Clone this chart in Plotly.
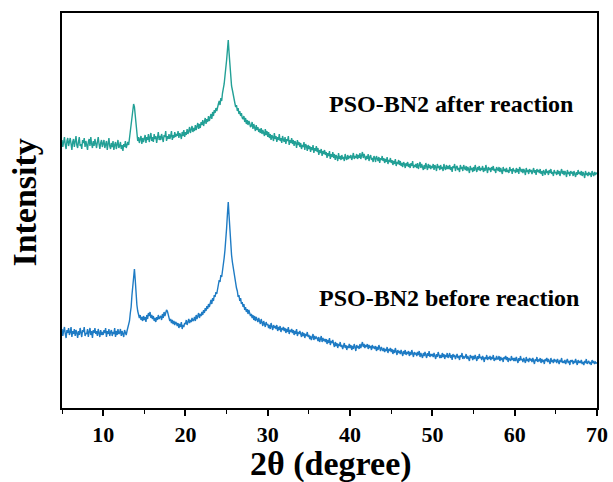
import numpy as np
import plotly.graph_objects as go

# Scan grid: 2θ from 5° to 70° in 0.1° steps
SCAN_START, SCAN_STEP, SCAN_POINTS = 5.0, 0.1, 651
two_theta = np.round(SCAN_START + SCAN_STEP * np.arange(SCAN_POINTS), 2)

# Intensity (a.u., stacked with offset); each row covers one degree (d.0 ... d.9)
after_reaction = [
    268, 261, 266, 271, 263, 259, 267, 270, 262, 265,  # 5
    270, 264, 258, 266, 269, 261, 267, 272, 263, 260,  # 6
    266, 271, 262, 264, 259, 268, 265, 270, 261, 267,  # 7
    263, 258, 266, 269, 262, 271, 264, 260, 267, 262,  # 8
    269, 263, 260, 266, 271, 264, 259, 265, 268, 261,  # 9
    264, 268, 260, 263, 267, 258, 265, 270, 262, 259,  # 10
    265, 261, 267, 258, 263, 266, 259, 264, 268, 260,  # 11
    262, 266, 259, 263, 257, 264, 261, 267, 260, 263,  # 12
    266, 263, 271, 275, 281, 291, 298, 304, 301, 291,  # 13
    280, 273, 267, 271, 265, 269, 272, 264, 270, 266,  # 14
    269, 273, 265, 271, 268, 274, 266, 270, 275, 267,  # 15
    271, 266, 274, 269, 272, 265, 270, 276, 268, 272,  # 16
    268, 274, 270, 266, 273, 271, 277, 267, 272, 269,  # 17
    274, 269, 272, 277, 268, 273, 270, 276, 271, 274,  # 18
    272, 277, 270, 275, 273, 269, 276, 272, 278, 271,  # 19
    276, 273, 279, 274, 277, 281, 275, 278, 282, 276,  # 20
    280, 277, 283, 278, 281, 285, 279, 284, 280, 286,  # 21
    283, 288, 282, 286, 290, 284, 289, 286, 292, 287,  # 22
    291, 294, 289, 296, 292, 298, 295, 300, 297, 302,  # 23
    304, 307, 303, 310, 307, 315, 319, 324, 332, 338,  # 24
    348, 358, 368, 355, 341, 331, 322, 318, 312, 309,  # 25
    305, 301, 303, 297, 300, 294, 297, 292, 295, 290,  # 26
    289, 292, 286, 290, 284, 288, 283, 287, 285, 281,  # 27
    282, 286, 279, 284, 280, 277, 283, 278, 281, 276,  # 28
    279, 275, 280, 274, 278, 276, 272, 279, 273, 277,  # 29
    271, 276, 270, 274, 268, 273, 271, 267, 275, 269,  # 30
    272, 266, 271, 268, 274, 267, 270, 265, 272, 268,  # 31
    266, 271, 264, 269, 267, 272, 263, 268, 265, 270,  # 32
    264, 268, 262, 267, 265, 260, 268, 263, 266, 261,  # 33
    265, 259, 263, 261, 266, 258, 264, 262, 257, 263,  # 34
    259, 262, 256, 261, 258, 263, 255, 260, 257, 262,  # 35
    256, 260, 253, 258, 255, 259, 252, 257, 254, 258,  # 36
    253, 256, 250, 255, 252, 257, 249, 254, 251, 256,  # 37
    250, 254, 248, 253, 251, 247, 255, 249, 252, 248,  # 38
    253, 249, 251, 247, 254, 250, 248, 253, 249, 252,  # 39
    250, 253, 248, 251, 255, 249, 252, 250, 254, 249,  # 40
    253, 250, 255, 249, 252, 256, 250, 254, 251, 248,  # 41
    252, 249, 254, 247, 251, 253, 248, 250, 246, 252,  # 42
    250, 246, 252, 249, 247, 251, 245, 250, 248, 252,  # 43
    247, 250, 245, 249, 246, 251, 244, 248, 246, 250,  # 44
    245, 248, 243, 247, 244, 249, 242, 246, 244, 248,  # 45
    243, 247, 242, 245, 241, 246, 244, 240, 245, 242,  # 46
    246, 241, 244, 240, 245, 242, 247, 240, 243, 241,  # 47
    244, 240, 245, 239, 243, 246, 240, 244, 241, 238,  # 48
    243, 239, 245, 241, 238, 244, 240, 243, 239, 242,  # 49
    240, 244, 238, 243, 241, 237, 244, 240, 242, 238,  # 50
    243, 239, 241, 237, 244, 240, 238, 243, 239, 242,  # 51
    239, 243, 238, 241, 236, 242, 240, 244, 237, 241,  # 52
    242, 238, 240, 236, 243, 239, 241, 237, 243, 240,  # 53
    238, 242, 237, 241, 239, 235, 242, 238, 240, 236,  # 54
    241, 237, 243, 239, 236, 241, 238, 242, 237, 240,  # 55
    238, 242, 236, 240, 237, 243, 239, 235, 241, 238,  # 56
    240, 236, 241, 238, 242, 237, 239, 235, 241, 238,  # 57
    237, 241, 236, 240, 238, 234, 241, 237, 239, 236,  # 58
    240, 236, 238, 235, 241, 237, 239, 234, 240, 237,  # 59
    238, 235, 240, 236, 239, 234, 241, 237, 236, 239,  # 60
    235, 239, 237, 233, 240, 236, 238, 234, 239, 236,  # 61
    238, 234, 237, 240, 235, 238, 233, 239, 236, 238,  # 62
    235, 239, 234, 237, 232, 238, 236, 233, 239, 235,  # 63
    237, 233, 238, 235, 239, 234, 236, 232, 238, 235,  # 64
    236, 233, 238, 234, 237, 232, 236, 239, 234, 237,  # 65
    233, 237, 235, 231, 238, 234, 236, 232, 237, 235,  # 66
    236, 232, 237, 234, 231, 236, 233, 238, 234, 236,  # 67
    233, 237, 232, 236, 234, 230, 237, 233, 235, 232,  # 68
    236, 233, 235, 231, 237, 234, 232, 236, 233, 235,  # 69
    234,                                               # 70
]

before_reaction = [
    79, 72, 77, 81, 74, 70, 78, 75, 80, 73,  # 5
    76, 81, 71, 77, 74, 79, 72, 78, 75, 70,  # 6
    77, 73, 80, 74, 71, 78, 76, 81, 72, 75,  # 7
    74, 79, 71, 76, 80, 73, 77, 70, 78, 75,  # 8
    80, 74, 77, 72, 79, 75, 71, 78, 73, 76,  # 9
    73, 78, 75, 80, 71, 77, 74, 79, 72, 76,  # 10
    78, 72, 76, 74, 80, 71, 77, 73, 79, 74,  # 11
    75, 79, 72, 77, 74, 71, 78, 75, 73, 77,  # 12
    80, 84, 87, 95, 101, 113, 125, 136, 139, 128,  # 13
    113, 103, 97, 94, 90, 93, 88, 91, 87, 92,  # 14
    88, 91, 86, 93, 89, 95, 92, 96, 90, 93,  # 15
    89, 92, 87, 90, 86, 91, 88, 93, 89, 91,  # 16
    92, 88, 94, 90, 96, 92, 95, 98, 97, 94,  # 17
    90, 87, 89, 85, 88, 84, 87, 83, 86, 85,  # 18
    82, 85, 80, 84, 81, 86, 79, 83, 81, 85,  # 19
    84, 88, 83, 86, 89, 85, 88, 86, 90, 87,  # 20
    88, 91, 87, 93, 89, 92, 95, 90, 94, 92,  # 21
    96, 93, 98, 95, 100, 97, 102, 99, 104, 101,  # 22
    105, 108, 104, 110, 107, 113, 111, 116, 114, 120,  # 23
    125, 128, 126, 133, 131, 140, 144, 150, 158, 166,  # 24
    180, 194, 206, 192, 176, 162, 153, 146, 140, 134,  # 25
    129, 124, 120, 117, 111, 113, 107, 110, 104, 106,  # 26
    101, 104, 98, 101, 96, 99, 94, 98, 95, 92,  # 27
    94, 90, 93, 88, 92, 87, 91, 89, 86, 90,  # 28
    87, 84, 89, 85, 82, 87, 84, 81, 86, 83,  # 29
    84, 80, 83, 79, 85, 81, 78, 83, 80, 82,  # 30
    79, 83, 77, 81, 78, 82, 76, 80, 78, 81,  # 31
    77, 80, 75, 79, 76, 81, 74, 78, 76, 79,  # 32
    75, 78, 73, 77, 74, 79, 72, 76, 74, 77,  # 33
    74, 71, 76, 72, 75, 70, 74, 72, 76, 71,  # 34
    73, 69, 72, 68, 71, 74, 68, 72, 69, 71,  # 35
    70, 67, 71, 66, 69, 72, 66, 70, 67, 69,  # 36
    66, 69, 64, 68, 65, 70, 63, 67, 65, 68,  # 37
    64, 61, 66, 62, 65, 60, 64, 62, 66, 61,  # 38
    63, 59, 62, 65, 60, 63, 58, 62, 60, 64,  # 39
    60, 63, 58, 62, 59, 64, 61, 57, 63, 60,  # 40
    62, 59, 64, 60, 63, 66, 61, 64, 60, 63,  # 41
    61, 64, 59, 63, 60, 62, 58, 63, 60, 61,  # 42
    59, 62, 57, 61, 58, 63, 60, 57, 61, 59,  # 43
    57, 60, 56, 59, 57, 61, 55, 59, 57, 60,  # 44
    56, 59, 54, 58, 55, 60, 56, 53, 58, 55,  # 45
    57, 54, 58, 55, 52, 57, 54, 58, 53, 56,  # 46
    54, 57, 52, 56, 53, 58, 55, 51, 56, 54,  # 47
    55, 52, 56, 53, 57, 51, 55, 53, 50, 55,  # 48
    52, 56, 53, 50, 55, 52, 57, 51, 54, 52,  # 49
    54, 51, 55, 52, 49, 54, 51, 56, 52, 50,  # 50
    53, 50, 55, 51, 54, 49, 53, 51, 55, 50,  # 51
    52, 55, 50, 53, 48, 54, 51, 53, 49, 52,  # 52
    54, 50, 52, 48, 53, 51, 55, 49, 52, 50,  # 53
    51, 54, 49, 52, 50, 47, 53, 50, 52, 48,  # 54
    52, 49, 53, 50, 47, 52, 49, 54, 50, 51,  # 55
    48, 52, 50, 46, 51, 49, 53, 48, 51, 49,  # 56
    52, 48, 51, 49, 53, 47, 50, 48, 52, 49,  # 57
    49, 52, 47, 51, 48, 50, 46, 51, 49, 52,  # 58
    48, 51, 46, 50, 49, 47, 52, 48, 50, 47,  # 59
    50, 47, 51, 48, 45, 50, 47, 52, 48, 49,  # 60
    46, 50, 48, 45, 51, 47, 49, 46, 50, 48,  # 61
    49, 46, 50, 47, 44, 49, 47, 51, 46, 48,  # 62
    47, 50, 45, 49, 46, 48, 44, 49, 47, 50,  # 63
    46, 49, 47, 44, 50, 46, 48, 45, 49, 47,  # 64
    48, 45, 49, 46, 44, 48, 46, 50, 45, 47,  # 65
    45, 48, 44, 47, 49, 45, 47, 43, 48, 46,  # 66
    48, 44, 47, 45, 49, 46, 43, 48, 45, 47,  # 67
    45, 48, 44, 46, 43, 47, 45, 49, 44, 46,  # 68
    47, 44, 46, 43, 48, 45, 47, 44, 46, 45,  # 69
    45,                                      # 70
]

series_labels = ["PSO-BN2 after reaction", "PSO-BN2 before reaction"]
x_tick_values = [10, 20, 30, 40, 50, 60, 70]

FONT = "Liberation Serif, Times New Roman, serif"
TEAL = "#22a096"
BLUE = "#1e7bc4"

fig = go.Figure()
fig.add_trace(go.Scatter(x=two_theta, y=after_reaction, mode="lines",
                         line=dict(color=TEAL, width=1.4), name=series_labels[0],
                         showlegend=False))
fig.add_trace(go.Scatter(x=two_theta, y=before_reaction, mode="lines",
                         line=dict(color=BLUE, width=1.4), name=series_labels[1],
                         showlegend=False))

axis_line = dict(showline=True, linecolor="black", linewidth=1.6, mirror=True,
                 showgrid=False, zeroline=False, automargin=False)

fig.update_xaxes(range=[5, 70], tickmode="array", tickvals=x_tick_values,
                 ticks="outside", ticklen=6, tickwidth=1.6, tickcolor="black",
                 minor=dict(tickmode="linear", tick0=5, dtick=5, ticks="outside",
                            ticklen=4, tickwidth=1.4, tickcolor="black"),
                 tickfont=dict(family=FONT, size=22, color="black", weight="bold"),
                 **axis_line)
fig.update_yaxes(range=[0, 395], showticklabels=False, ticks="", **axis_line)

label_font = dict(family=FONT, size=24, color="black", weight="bold")
annotations = [
    dict(text=series_labels[0], x=52.3, y=304, xref="x", yref="y",
         showarrow=False, xanchor="center", yanchor="middle", font=label_font),
    dict(text=series_labels[1], x=52.0, y=110, xref="x", yref="y",
         showarrow=False, xanchor="center", yanchor="middle", font=label_font),
    dict(text="Intensity", xref="paper", yref="paper", x=0, y=0.52,
         xshift=-37, textangle=-90, showarrow=False,
         xanchor="center", yanchor="middle",
         font=dict(family=FONT, size=34, color="black", weight="bold")),
    dict(text="2θ (degree)", xref="paper", yref="paper", x=0.503, y=0,
         yshift=-56, showarrow=False, xanchor="center", yanchor="middle",
         font=dict(family=FONT, size=34, color="black", weight="bold")),
]

fig.update_layout(width=613, height=482, margin=dict(l=62, r=16, t=13, b=74),
                  paper_bgcolor="white", plot_bgcolor="white",
                  annotations=annotations)

fig.write_html("out.html")
